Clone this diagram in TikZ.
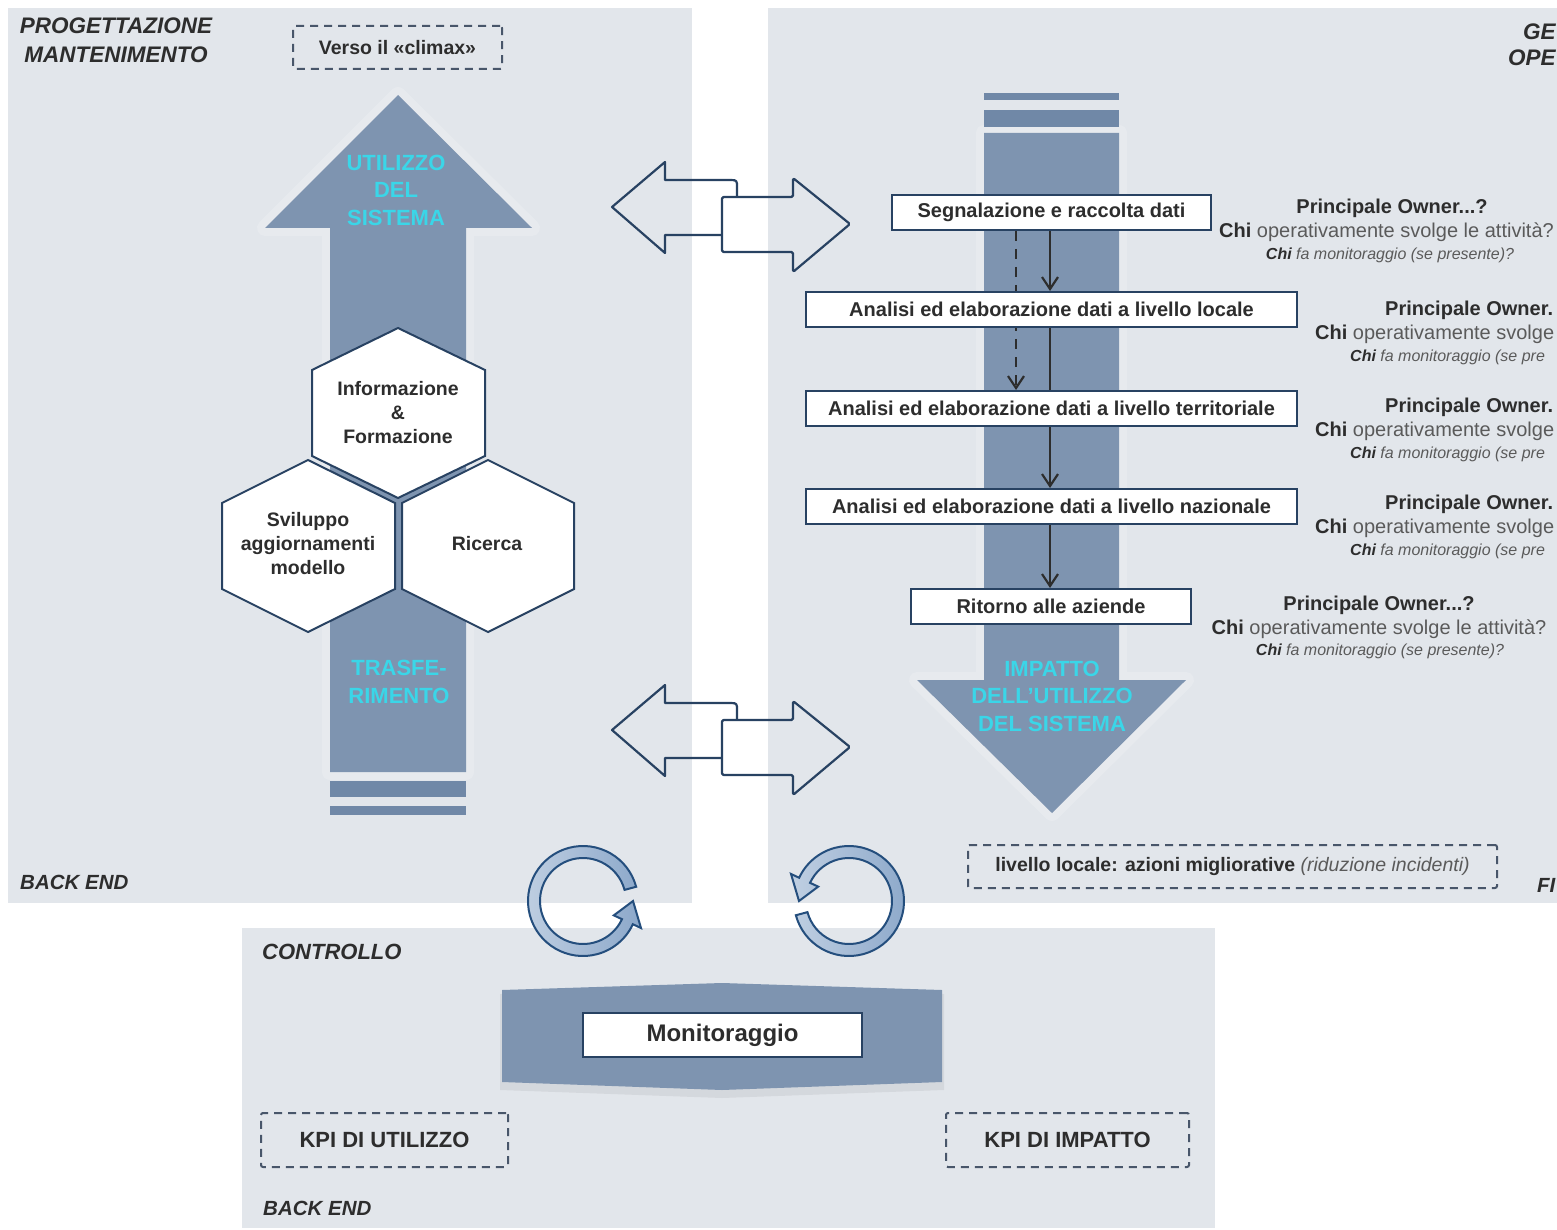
\documentclass[tikz,border=0pt]{standalone}
\usepackage{fontspec}
\setmainfont{Liberation Sans}
\usetikzlibrary{arrows.meta}

\definecolor{panel}{RGB}{226,230,235}
\definecolor{steel}{RGB}{112,136,167}
\definecolor{steeldark}{RGB}{98,122,154}
\definecolor{cyantext}{RGB}{58,214,232}
\definecolor{navy}{RGB}{40,66,98}
\definecolor{txt}{RGB}{45,45,45}
\definecolor{gtxt}{RGB}{90,90,90}
\definecolor{ringfill}{RGB}{140,168,202}
\definecolor{ringline}{RGB}{36,78,125}
\definecolor{dashc}{RGB}{72,86,106}

\tikzset{
  flowbox/.style={draw=navy, line width=2pt, fill=white, minimum height=35pt, inner sep=0pt,
    font=\fontsize{20}{24}\selectfont\bfseries, text=txt},
  hexshape/.style={draw=navy, line width=2pt, fill=white, line join=miter},
  hextext/.style={font=\fontsize{19.5}{24}\selectfont\bfseries, text=txt, align=center, inner sep=0pt},
  arrowfill/.style={left color=steel!90!white, middle color=steeldark, right color=steel!90!white},
  halo/.style={draw=white, opacity=0.18, line width=16pt, line join=round},
  arrtext/.style={font=\fontsize{22}{27.5}\selectfont\bfseries, text=cyantext, align=center, inner sep=0pt},
  dashbox/.style={draw=dashc, line width=2pt, dash pattern=on 8pt off 6pt, rounded corners=2pt, inner sep=0pt},
  paneltitle/.style={font=\fontsize{22.5}{29}\selectfont\bfseries\itshape, text=txt, inner sep=0pt},
  flowline/.style={draw=txt, line width=2.2pt},
  flowarrow/.style={flowline, -{Straight Barb[length=12pt,width=16pt,line width=2.2pt]}},
  dblarrow/.style={draw=navy, line width=2.2pt, line join=round},
  ring/.style={left color=ringfill!55!white, right color=ringfill, draw=ringline, line width=2pt, line join=miter},
  ownA/.style={font=\fontsize{20}{24}\selectfont\bfseries, text=txt, inner sep=0pt},
  ownB/.style={font=\fontsize{20}{24}\selectfont, text=gtxt, inner sep=0pt},
  ownC/.style={font=\fontsize{16}{20}\selectfont\itshape, text=gtxt, inner sep=0pt},
}

\begin{document}
\begin{tikzpicture}[x=1pt,y=-1pt]
\useasboundingbox (0,0) rectangle (1557,1230);
\clip (0,0) rectangle (1557,1230);
\fill[white] (0,0) rectangle (1557,1230);

% panels
\fill[panel] (8,8) rectangle (692,903);
\fill[panel] (768,8) rectangle (1557,903);
\fill[panel] (242,928) rectangle (1215,1228);

% ---------- left panel ----------
\node[paneltitle, align=center] (tprog) at (116,40) {PROGETTAZIONE\\MANTENIMENTO};
\node[paneltitle, anchor=west, font=\fontsize{20.5}{24}\selectfont\bfseries\itshape] (tbe1) at (20,882) {BACK END};
\node[dashbox, minimum width=209pt, minimum height=43pt, font=\fontsize{19.5}{24}\selectfont\bfseries, text=txt] (climax) at (397.5,47.5) {Verso il «climax»};

% up arrow
\draw[halo] (330,772) -- (330,228) -- (265,228) -- (398,95) -- (532,228) -- (466,228) -- (466,772) -- cycle;
\path[arrowfill] (330,772) -- (330,228) -- (265,228) -- (398,95) -- (532,228) -- (466,228) -- (466,772) -- cycle;
\fill[steel] (330,781) rectangle (466,797);
\fill[steel] (330,806) rectangle (466,815);
\node[arrtext] (uts) at (396,190) {UTILIZZO\\DEL\\SISTEMA};
\node[arrtext] (trasf) at (399,682) {TRASFE-\\RIMENTO};

% hexagons
\path[hexshape] (398,328) -- (485,370) -- (485,456) -- (398,498) -- (312,456) -- (312,370) -- cycle;
\path[hexshape] (308,460) -- (395,503) -- (395,589) -- (308,632) -- (222,589) -- (222,503) -- cycle;
\path[hexshape] (488,460) -- (574,503) -- (574,589) -- (488,632) -- (402,589) -- (402,503) -- cycle;
\node[hextext] (hinf) at (398,413) {Informazione\\\&\\Formazione};
\node[hextext] (hsvi) at (308,544) {Sviluppo\\aggiornamenti\\modello};
\node[hextext] (hric) at (487,544) {Ricerca};

% ---------- double arrows ----------
\foreach \dy in {0,523}{
  \begin{scope}[yshift=-\dy pt]
    \draw[dblarrow] (722,235) -- (665,235) -- (665,253) -- (612,207) -- (665,162) -- (665,180) -- (731,180)
       .. controls (737,180) and (737,181) .. (737,187) -- (737,197);
    \draw[dblarrow, rounded corners=1.5pt] (722,197) -- (793,197) -- (793,178) -- (850,224) -- (793,272) -- (793,252) -- (722,252) -- cycle;
  \end{scope}
}

% ---------- right panel ----------
\node[paneltitle, anchor=west] (tge) at (1523,32) {GE};
\node[paneltitle, anchor=west] (tope) at (1508,58) {OPE};
\node[paneltitle, anchor=west, font=\fontsize{20.5}{24}\selectfont\bfseries\itshape] (tfe) at (1537,885) {FI};

% down arrow
\draw[halo] (984,133) -- (984,680) -- (917,680) -- (1052,813) -- (1186,680) -- (1119,680) -- (1119,133) -- cycle;
\path[arrowfill] (984,133) -- (984,680) -- (917,680) -- (1052,813) -- (1186,680) -- (1119,680) -- (1119,133) -- cycle;
\fill[steel] (984,93) rectangle (1119,100);
\fill[steel] (984,110) rectangle (1119,127);
\node[arrtext] (imp) at (1052,696) {IMPATTO\\DELL'UTILIZZO\\DEL SISTEMA};

% flow boxes
\coordinate (ax) at (1050,0);
\coordinate (dx) at (1016,0);
\node[flowbox, minimum width=319pt] (b1) at (1051.5,212.5) {Segnalazione e raccolta dati};
\node[flowbox, minimum width=491pt] (b3) at (1051.5,408.5) {Analisi ed elaborazione dati a livello territoriale};
\draw[flowline, dash pattern=on 10pt off 8pt, -{Straight Barb[length=12pt,width=16pt,line width=2.2pt]}] (b1.south -| dx) -- (b3.north -| dx);
\node[flowbox, minimum width=491pt] (b2) at (1051.5,309.5) {Analisi ed elaborazione dati a livello locale};
\node[flowbox, minimum width=491pt] (b4) at (1051.5,506.5) {Analisi ed elaborazione dati a livello nazionale};
\node[flowbox, minimum width=280pt] (b5) at (1051,606.5) {Ritorno alle aziende};
\draw[flowarrow] (b1.south -| ax) -- (b2.north -| ax);
\draw[flowline] (b2.south -| ax) -- (b3.north -| ax);
\draw[flowarrow] (b3.south -| ax) -- (b4.north -| ax);
\draw[flowarrow] (b4.south -| ax) -- (b5.north -| ax);

% owner texts
\node[ownA] (o1a) at (1392,208) {Principale Owner...?};
\node[ownB, anchor=west] (o1b) at (1219,232) {\textcolor{txt}{\bfseries Chi} operativamente svolge le attività?};
\node[ownC] (o1c) at (1390,255) {\textcolor{txt}{\bfseries Chi} fa monitoraggio (se presente)?};

\node[ownA, anchor=west] (o2a) at (1385,310) {Principale Owner.};
\node[ownB, anchor=west] (o2b) at (1315,334) {\textcolor{txt}{\bfseries Chi} operativamente svolge};
\node[ownC, anchor=west] (o2c) at (1350,357) {\textcolor{txt}{\bfseries Chi} fa monitoraggio (se pre};

\node[ownA, anchor=west] (o3a) at (1385,407) {Principale Owner.};
\node[ownB, anchor=west] (o3b) at (1315,431) {\textcolor{txt}{\bfseries Chi} operativamente svolge};
\node[ownC, anchor=west] (o3c) at (1350,454) {\textcolor{txt}{\bfseries Chi} fa monitoraggio (se pre};

\node[ownA, anchor=west] (o4a) at (1385,504) {Principale Owner.};
\node[ownB, anchor=west] (o4b) at (1315,528) {\textcolor{txt}{\bfseries Chi} operativamente svolge};
\node[ownC, anchor=west] (o4c) at (1350,551) {\textcolor{txt}{\bfseries Chi} fa monitoraggio (se pre};

\node[ownA] (o5a) at (1379,605) {Principale Owner...?};
\node[ownB] (o5b) at (1379,629) {\textcolor{txt}{\bfseries Chi} operativamente svolge le attività?};
\node[ownC] (o5c) at (1380,651) {\textcolor{txt}{\bfseries Chi} fa monitoraggio (se presente)?};

\node[dashbox, minimum width=529pt, minimum height=43pt, font=\fontsize{19.5}{24}\selectfont, text=txt] (liv) at (1232.5,866.5)
  {\bfseries livello locale: azioni migliorative \mdseries\itshape\textcolor{gtxt}{(riduzione incidenti)}};

% ---------- rings ----------
\begin{scope}[shift={(583,901)}, yscale=-1]
  \path[ring] (15:55) arc[start angle=15, end angle=335, radius=55] -- (335:64) -- (0:50) -- (335:34) -- (335:43)
     arc[start angle=335, end angle=15, radius=43] -- cycle;
\end{scope}
\begin{scope}[shift={(849,901)}, yscale=-1]
  \path[ring] (195:55) arc[start angle=195, end angle=515, radius=55] -- (515:64) -- (540:50) -- (515:34) -- (515:43)
     arc[start angle=515, end angle=195, radius=43] -- cycle;
\end{scope}

% ---------- bottom panel ----------
\node[paneltitle, anchor=west, font=\fontsize{22}{26}\selectfont\bfseries\itshape] (tctrl) at (262,952) {CONTROLLO};
\node[paneltitle, anchor=west, font=\fontsize{20.5}{24}\selectfont\bfseries\itshape] (tbe2) at (263,1208) {BACK END};

\fill[black, opacity=0.06] (500,994) -- (722,987) -- (944,994) -- (944,1090) -- (722,1098) -- (500,1090) -- cycle;
\path[arrowfill] (502,990) -- (722,983) -- (942,990) -- (942,1082) -- (722,1090) -- (502,1082) -- cycle;
\node[flowbox, minimum width=279pt, minimum height=44pt, font=\fontsize{24}{28}\selectfont\bfseries] (mon) at (722.5,1035) {Monitoraggio};

\node[dashbox, minimum width=247pt, minimum height=54pt, font=\fontsize{22}{26}\selectfont\bfseries, text=txt] (kpiu) at (384.5,1140) {KPI DI UTILIZZO};
\node[dashbox, minimum width=243pt, minimum height=54pt, font=\fontsize{22}{26}\selectfont\bfseries, text=txt] (kpii) at (1067.5,1140) {KPI DI IMPATTO};

\end{tikzpicture}
\end{document}
